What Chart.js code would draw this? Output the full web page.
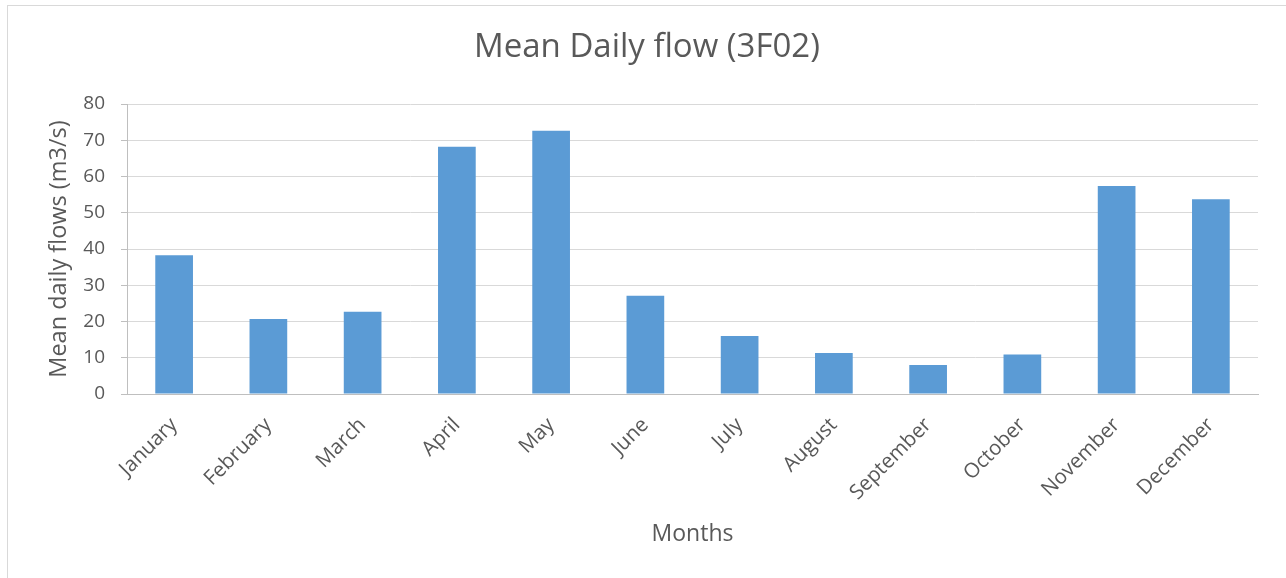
<!DOCTYPE html>
<html>
<head>
<meta charset="utf-8">
<script src="https://cdn.jsdelivr.net/npm/chart.js@4/dist/chart.umd.min.js"></script>
<style>
  html, body { margin: 0; padding: 0; background: #fff; }
  #wrap { position: relative; width: 1286px; height: 578px; }
</style>
</head>
<body>
<div id="wrap"><canvas id="c" width="1286" height="578"></canvas></div>
<script>
const months = ["January","February","March","April","May","June","July","August","September","October","November","December"];
const meanFlows = [38.3, 20.7, 22.7, 68.2, 72.6, 27.1, 16.0, 11.3, 8.0, 10.9, 57.4, 53.7];
const yTicks = [0, 10, 20, 30, 40, 50, 60, 70, 80];
const chartTitle = "Mean Daily flow (3F02)";
const yTitle = "Mean daily flows (m3/s)";
const xTitle = "Months";

const FONT = "'Open Sans', 'Noto Sans', sans-serif";
const TXT = "#595959";

const borderPlugin = {
  id: 'outerBorder',
  beforeDraw(chart) {
    const ctx = chart.ctx;
    ctx.save();
    ctx.fillStyle = '#fff';
    ctx.fillRect(0, 0, chart.width, chart.height);
    ctx.strokeStyle = '#d9d9d9';
    ctx.lineWidth = 1;
    ctx.strokeRect(7.5, 5.5, chart.width, chart.height);
    ctx.restore();
  }
};

new Chart(document.getElementById('c'), {
  type: 'bar',
  data: {
    labels: months,
    datasets: [{
      data: meanFlows,
      backgroundColor: '#5b9bd5',
      borderWidth: 0,
      categoryPercentage: 1.0,
      barPercentage: 0.4
    }]
  },
  plugins: [borderPlugin],
  options: {
    responsive: false,
    animation: false,
    devicePixelRatio: 1,
    layout: { padding: { left: 36, right: 28, top: 0, bottom: 0 } },
    plugins: {
      legend: { display: false },
      tooltip: { enabled: false },
      title: {
        display: true,
        text: chartTitle,
        color: TXT,
        font: { family: FONT, size: 33, weight: 'normal', lineHeight: 1.2 },
        padding: { top: 28, bottom: 36.4 }
      }
    },
    scales: {
      x: {
        afterFit(axis) { axis.height = 184; },
        grid: { display: false, drawTicks: false },
        border: { display: true, color: '#bfbfbf', width: 1 },
        ticks: {
          color: TXT,
          font: { family: FONT, size: 20.5 },
          minRotation: 45,
          maxRotation: 45,
          padding: 19,
          autoSkip: false
        },
        title: {
          display: true,
          text: xTitle,
          color: TXT,
          font: { family: FONT, size: 23, lineHeight: 1.2 },
          padding: { top: 0, bottom: 30 }
        }
      },
      y: {
        min: 0,
        max: 80,
        afterFit(axis) { axis.width = 91; },
        afterBuildTicks(axis) { axis.ticks = yTicks.map(v => ({ value: v })); },
        grid: { color: '#d9d9d9', lineWidth: 1, drawTicks: true, tickLength: 6, tickColor: '#bfbfbf' },
        border: { display: true, color: '#bfbfbf', width: 1 },
        ticks: {
          color: TXT,
          font: { family: FONT, size: 19 },
          padding: 16
        },
        title: {
          display: true,
          text: yTitle,
          color: TXT,
          font: { family: FONT, size: 23.5, lineHeight: 1.2 },
          padding: { top: 9, bottom: 10 }
        }
      }
    }
  }
});
</script>
</body>
</html>
